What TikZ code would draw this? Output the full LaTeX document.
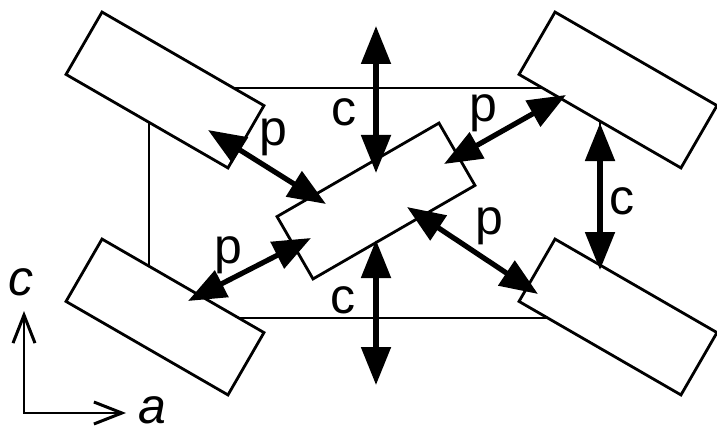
\documentclass[tikz,border=0pt]{standalone}
\usepackage{fontspec}
\setsansfont{Liberation Sans}
\usetikzlibrary{arrows.meta, positioning}
\tikzset{
  every picture/.style={font=\sffamily\fontsize{25}{29}\selectfont, line width=1.1pt},
  slab/.style={draw, fill=white, line width=1.4pt, minimum width=93.5pt, minimum height=36pt, inner sep=0pt},
  dbl/.style={{Triangle[length=19pt, width=14.5pt]}-{Triangle[length=19pt, width=14.5pt]}, line width=2.6pt},
  axis/.style={{Straight Barb[length=14pt, width=11pt, line width=1.5pt]}-{Straight Barb[length=14pt, width=11pt, line width=1.5pt]}, line width=1.1pt},
  lbl/.style={inner sep=0pt},
}

\begin{document}
\begin{tikzpicture}[x=0.5pt, y=-0.5pt]
  \useasboundingbox (0,0) rectangle (717,433);
  \draw (149,88) rectangle (600,318);
  \node[slab, rotate=-30] (tl) at (165,90) {};
  \node[slab, rotate=-30] (tr) at (618,90) {};
  \node[slab, rotate=-30] (bl) at (165,317) {};
  \node[slab, rotate=-30] (br) at (618,317) {};
  \node[slab, rotate=30] (mid) at (376,201) {};
  \coordinate (p1a) at (208,130);
  \coordinate (p1b) at (326,204);
  \coordinate (p2a) at (566,95);
  \coordinate (p2b) at (444,164);
  \coordinate (p3a) at (188,301);
  \coordinate (p3b) at (311,238);
  \coordinate (p4a) at (407,207);
  \coordinate (p4b) at (538,294);
  \coordinate (c1a) at (376,26);
  \coordinate (c1b) at (376,173);
  \coordinate (c2a) at (376,240);
  \coordinate (c2b) at (376,385);
  \coordinate (c3a) at (600,123);
  \coordinate (c3b) at (600,270);
  \draw[dbl] (p1a) -- (p1b);
  \draw[dbl] (p2a) -- (p2b);
  \draw[dbl] (p3a) -- (p3b);
  \draw[dbl] (p4a) -- (p4b);
  \draw[dbl] (c1a) -- (c1b);
  \draw[dbl] (c2a) -- (c2b);
  \draw[dbl] (c3a) -- (c3b);
  \node[lbl] (lp1) at (273,137) {p};
  \node[lbl] (lp2) at (483,113) {p};
  \node[lbl] (lp3) at (228,255) {p};
  \node[lbl] (lp4) at (489,226) {p};
  \node[lbl] (lc1) at (344,112) {c};
  \node[lbl] (lc2) at (343,300) {c};
  \node[lbl] (lc3) at (622,201) {c};
  \coordinate (orig) at (24,413);
  \coordinate (ctip) at (24,311);
  \coordinate (atip) at (126,413);
  \draw[axis] (ctip) -- (orig) -- (atip);
  \node[lbl] (lc) at (21,282) {\textit{c}};
  \node[lbl] (la) at (152,410) {\textit{a}};
\end{tikzpicture}
\end{document}
